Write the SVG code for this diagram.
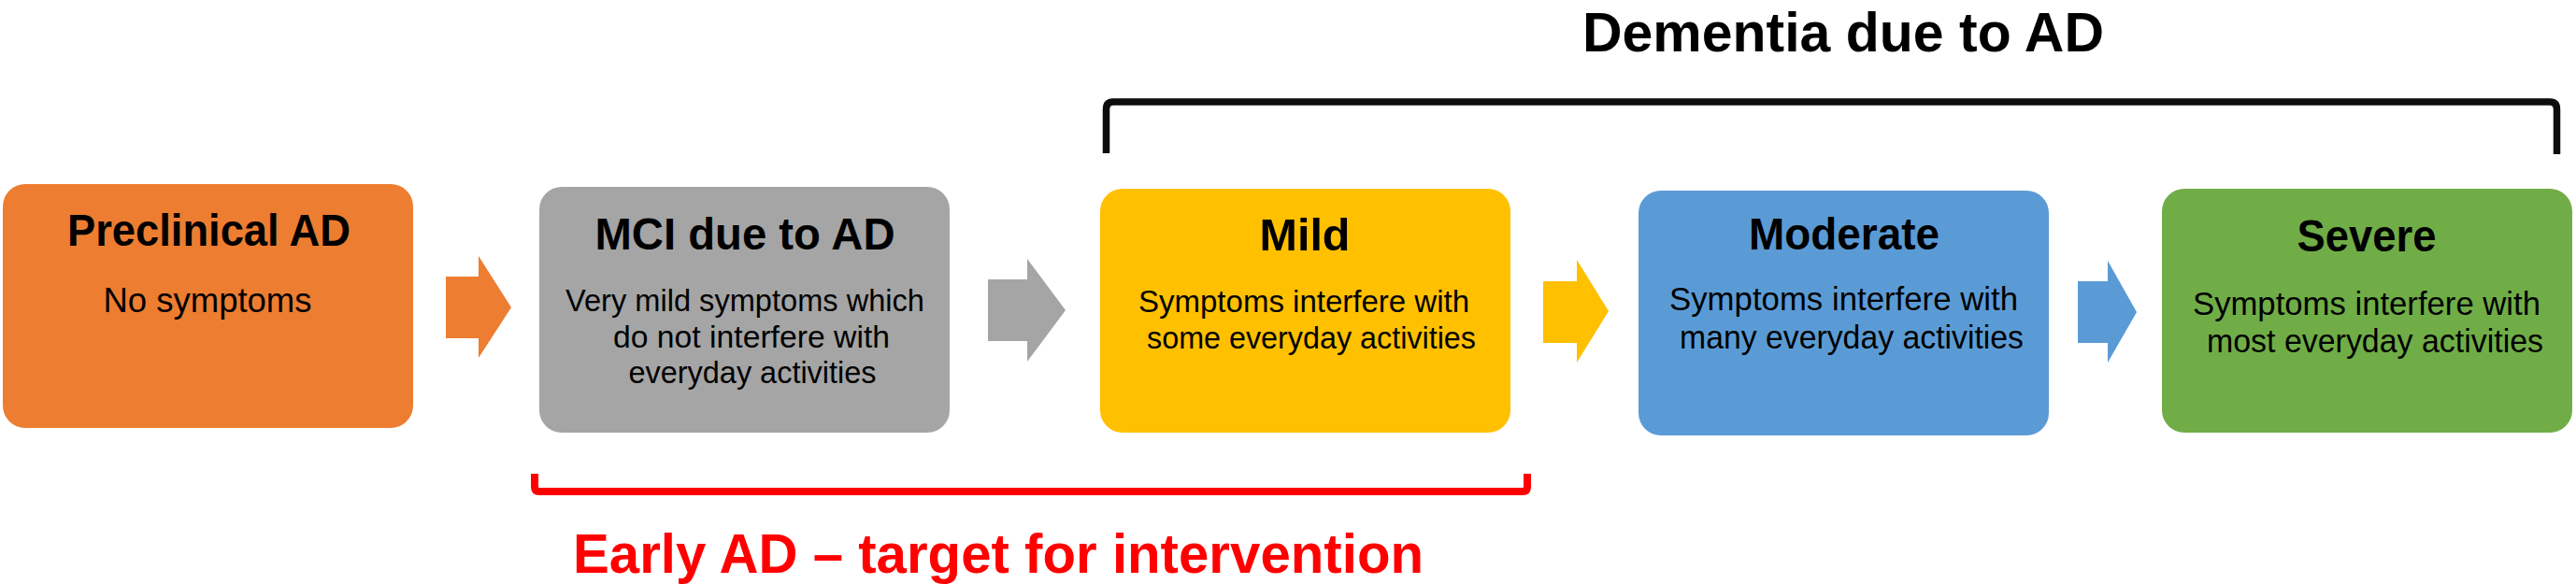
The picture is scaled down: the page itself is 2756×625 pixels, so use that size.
<svg xmlns="http://www.w3.org/2000/svg" width="2756" height="625" viewBox="0 0 2756 625">
<style>
.box{stroke:none}
.t{font-family:"Liberation Sans",Arial,sans-serif;font-weight:bold;font-size:48px;fill:#000;text-anchor:middle}
.b{font-family:"Liberation Sans",Arial,sans-serif;fill:#000;text-anchor:middle}
.br{fill:none;stroke-linecap:butt;stroke-linejoin:round}
</style>
<rect width="2756" height="625" fill="#fff"/>
<g id="connectors">
<polygon points="477,296 512,296 512,274 547,329 512,383 512,362 477,362" fill="#ED7D31"/>
<polygon points="1057,299 1099,299 1099,277 1140,332 1099,387 1099,365 1057,365" fill="#A5A5A5"/>
<polygon points="1651,301 1687,301 1687,278 1721,333 1687,388 1687,367 1651,367" fill="#FFC000"/>
<polygon points="2223,301 2255,301 2255,279 2286,334 2255,388 2255,367 2223,367" fill="#5B9BD5"/>
</g>
<g id="dementia-bracket">
<path class="br" d="M1183.5 164 L1183.5 117 Q1183.5 109 1191 109 L2728 109 Q2735.5 109 2735.5 117 L2735.5 165" stroke="#0D0D0D" stroke-width="7.5"/>
<text class="t" x="1972" y="55" style="font-size:59px" textLength="558" lengthAdjust="spacingAndGlyphs">Dementia due to AD</text>
</g>
<g id="early-bracket">
<path class="br" d="M572 507 L572 521 Q572 526 577 526 L1629 526 Q1634 526 1634 521 L1634 507" stroke="#FF0000" stroke-width="8"/>
<text class="t" x="1068" y="613" style="font-size:60px;fill:#FF0000" textLength="910" lengthAdjust="spacingAndGlyphs">Early AD – target for intervention</text>
</g>
<g id="preclinical">
<rect class="box" x="3" y="197" width="439" height="261" rx="24" fill="#ED7D31"/>
<text class="t" x="223.5" y="263" textLength="303" lengthAdjust="spacingAndGlyphs">Preclinical AD</text>
<text class="b" x="222" y="334" font-size="36" textLength="223" lengthAdjust="spacingAndGlyphs">No symptoms</text>
</g>
<g id="mci">
<rect class="box" x="577" y="200" width="439" height="263" rx="24" fill="#A5A5A5"/>
<text class="t" x="797" y="267" textLength="321" lengthAdjust="spacingAndGlyphs">MCI due to AD</text>
<text class="b" x="797" y="333" font-size="33" textLength="384" lengthAdjust="spacingAndGlyphs">Very mild symptoms which</text>
<text class="b" x="804" y="372" font-size="33" textLength="296" lengthAdjust="spacingAndGlyphs">do not interfere with</text>
<text class="b" x="805" y="410" font-size="33" textLength="265" lengthAdjust="spacingAndGlyphs">everyday activities</text>
</g>
<g id="mild">
<rect class="box" x="1177" y="202" width="439" height="261" rx="24" fill="#FFC000"/>
<text class="t" x="1396" y="268" textLength="97" lengthAdjust="spacingAndGlyphs">Mild</text>
<text class="b" x="1395" y="334" font-size="34" textLength="354" lengthAdjust="spacingAndGlyphs">Symptoms interfere with</text>
<text class="b" x="1403" y="373" font-size="34" textLength="352" lengthAdjust="spacingAndGlyphs">some everyday activities</text>
</g>
<g id="moderate">
<rect class="box" x="1753" y="204" width="439" height="262" rx="24" fill="#5B9BD5"/>
<text class="t" x="1973" y="267" textLength="204" lengthAdjust="spacingAndGlyphs">Moderate</text>
<text class="b" x="1972.5" y="332" font-size="35" textLength="373" lengthAdjust="spacingAndGlyphs">Symptoms interfere with</text>
<text class="b" x="1981" y="373" font-size="35" textLength="368" lengthAdjust="spacingAndGlyphs">many everyday activities</text>
</g>
<g id="severe">
<rect class="box" x="2313" y="202" width="439" height="261" rx="24" fill="#70AD47"/>
<text class="t" x="2532" y="269" textLength="149" lengthAdjust="spacingAndGlyphs">Severe</text>
<text class="b" x="2532" y="337" font-size="35" textLength="372" lengthAdjust="spacingAndGlyphs">Symptoms interfere with</text>
<text class="b" x="2541" y="377" font-size="35" textLength="360" lengthAdjust="spacingAndGlyphs">most everyday activities</text>
</g>
</svg>
